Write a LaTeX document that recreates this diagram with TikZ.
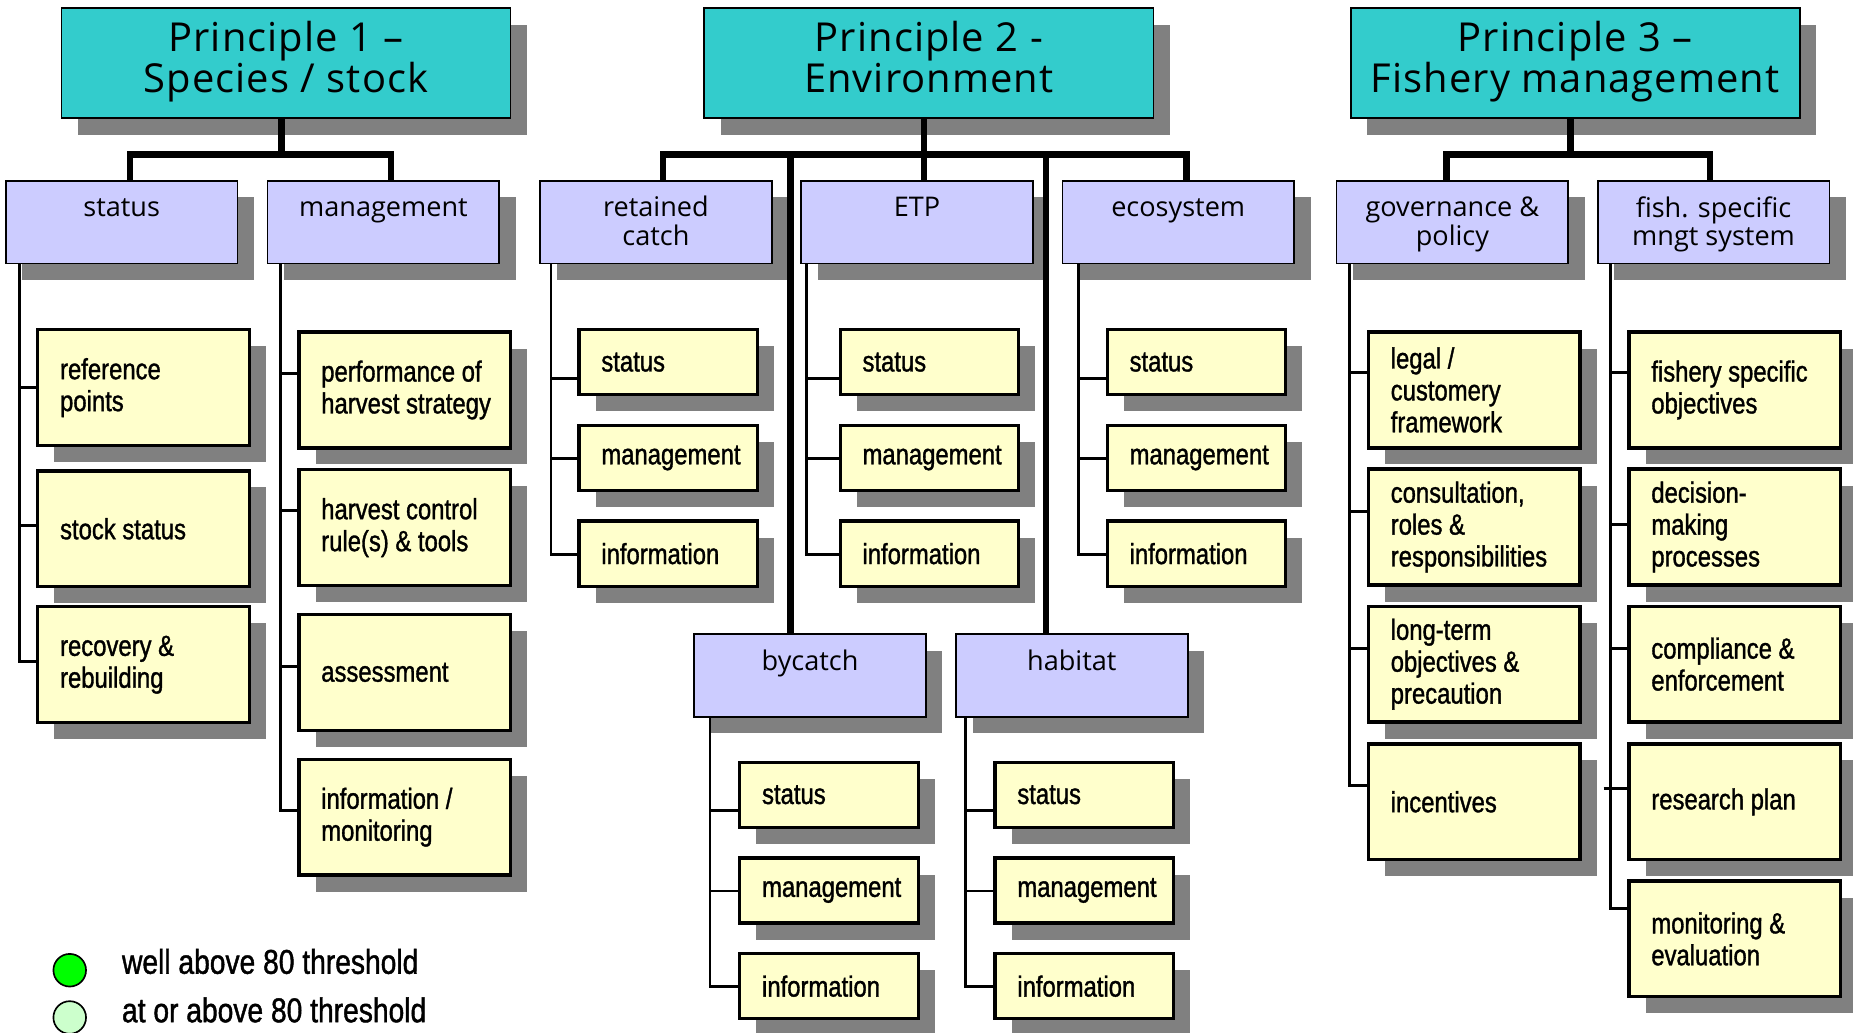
\documentclass[tikz,border=0pt]{standalone}
\usepackage{fontspec}
\setmainfont{Open Sans}
\newfontfamily\headf{Open Sans}[LetterSpace=2.7]
\newfontfamily\narrowf{Liberation Sans}[FakeStretch=0.82,FakeBold=1.2]
\usetikzlibrary{shadows,calc}
\definecolor{tealc}{HTML}{33CCCC}
\definecolor{lavc}{HTML}{CCCCFF}
\definecolor{ylwc}{HTML}{FFFFCC}
\definecolor{shadowc}{HTML}{808080}
\definecolor{gA}{HTML}{00FF00}
\definecolor{gB}{HTML}{CCFFCC}
\begin{document}
\begin{tikzpicture}[x=0.025cm,y=-0.025cm,
  shd/.style={drop shadow={shadow xshift=0.35cm,shadow yshift=-0.35cm,fill=shadowc,opacity=1}},
  tbox/.style={shd,draw=black,line width=1pt,fill=tealc,minimum width=9.5cm,minimum height=2.325cm,inner sep=0pt,align=center,font=\headf\fontsize{24}{24.9}\selectfont},
  pbox/.style={shd,draw=black,line width=1pt,fill=lavc,minimum width=4.9cm,minimum height=1.75cm,inner sep=0pt},
  plab/.style={anchor=north,inner sep=0pt,align=center,font=\fontsize{16.3}{17}\selectfont,yshift=-0.34cm},
  pl/.style={label={[plab]north:{\vphantom{lg}#1}}},
  ybox/.style={shd,draw=black,line width=2pt,fill=ylwc,inner sep=0pt},
  ylab/.style={anchor=west,inner sep=0pt,align=left,xshift=0.5cm,font=\narrowf\fontsize{17.5}{19.2}\selectfont},
  yl/.style={label={[ylab]west:{#1}}},
  ybig/.style={ybox,minimum width=4.475cm,minimum height=2.45cm},
  ysml/.style={ybox,minimum width=3.775cm,minimum height=1.375cm},
  thk/.style={line width=3.9pt},
  thn/.style={line width=1.7pt},
  lgc/.style={circle,draw=black,line width=1pt,minimum size=0.69cm,inner sep=0pt},
  lgt/.style={anchor=base west,inner sep=0pt,font=\narrowf\fontsize{20.7}{24}\selectfont}
]
\useasboundingbox (0,0) rectangle (1568,874);

% principles
\node[tbox] (P1) at (242,53.5) {Principle 1 –\\Species / stock\strut};
\node[tbox] (P2) at (786,53.5) {Principle 2 -\\Environment\strut};
\node[tbox] (P3) at (1333,53.5) {Principle 3 –\\Fishery management\strut};

% components
\node[pbox,pl={status}] (s1) at (103,188) {};
\node[pbox,pl={management}] (m1) at (324.5,188) {};
\node[pbox,pl={retained\\catch}] (rc) at (555,188) {};
\node[pbox,pl={ETP}] (etp) at (776,188) {};
\node[pbox,pl={ecosystem}] (eco) at (997,188) {};
\node[pbox,pl={governance \&\\policy}] (gov) at (1229,188) {};
\node[pbox,pl={fish. specific\\mngt system}] (fsm) at (1450,188) {};
\node[pbox,pl={bycatch}] (byc) at (685.5,571.5) {};
\node[pbox,pl={habitat}] (hab) at (907,571.5) {};

% P1 status
\node[ybig,yl={reference\\points}] (rp) at (121.5,328) {};
\node[ybig,yl={stock status}] (ss) at (121.5,447.5) {};
\node[ybig,yl={recovery \&\\rebuilding}] (rr) at (121.5,562.5) {};
% P1 management
\node[ybig,yl={performance of\\harvest strategy}] (perf) at (342.5,330) {};
\node[ybig,yl={harvest control\\rule(s) \& tools}] (hcr) at (342.5,446.5) {};
\node[ybig,yl={assessment}] (asm) at (342.5,569) {};
\node[ybig,yl={information /\\monitoring}] (im) at (342.5,691.5) {};

% P2 small boxes
\node[ysml,yl={status}] (rcA) at (565.5,306.5) {};
\node[ysml,yl={management}] (rcB) at (565.5,387.5) {};
\node[ysml,yl={information}] (rcC) at (565.5,468.5) {};
\node[ysml,yl={status}] (etA) at (786.5,306.5) {};
\node[ysml,yl={management}] (etB) at (786.5,387.5) {};
\node[ysml,yl={information}] (etC) at (786.5,468.5) {};
\node[ysml,yl={status}] (ecA) at (1012.5,306.5) {};
\node[ysml,yl={management}] (ecB) at (1012.5,387.5) {};
\node[ysml,yl={information}] (ecC) at (1012.5,468.5) {};
\node[ysml,yl={status}] (bcA) at (701.5,672.5) {};
\node[ysml,yl={management}] (bcB) at (701.5,753.5) {};
\node[ysml,yl={information}] (bcC) at (701.5,834.5) {};
\node[ysml,yl={status}] (hbA) at (917.5,672.5) {};
\node[ysml,yl={management}] (hbB) at (917.5,753.5) {};
\node[ysml,yl={information}] (hbC) at (917.5,834.5) {};

% P3
\node[ybig,yl={legal /\\customery\\framework}] (leg) at (1247.5,330) {};
\node[ybig,yl={consultation,\\roles \&\\responsibilities}] (con) at (1247.5,446) {};
\node[ybig,yl={long-term\\objectives \&\\precaution}] (lto) at (1247.5,562) {};
\node[ybig,yl={incentives}] (inc) at (1247.5,678.5) {};
\node[ybig,yl={fishery specific\\objectives}] (fso) at (1468,330) {};
\node[ybig,yl={decision-\\making\\processes}] (dmp) at (1468,446) {};
\node[ybig,yl={compliance \&\\enforcement}] (ce) at (1468,562) {};
\node[ybig,yl={research plan}] (rpl) at (1468,678.5) {};
\node[ybig,yl={monitoring \&\\evaluation}] (me) at (1468,794.5) {};

% thick connectors
\draw[thk] ($(P1.south)+(-4,0)$) -- ++(0,30);
\draw[thk] ($(s1.north)+(7,0)$) |- ($(P1.south)+(-4,30)$) -| ($(m1.north)+(6.5,0)$);
\draw[thk] ($(P2.south)+(-4,0)$) -- ($(etp.north)+(6,0)$);
\draw[thk] ($(rc.north)+(6,0)$) |- ($(P2.south)+(-4,30)$) -| ($(eco.north)+(7,0)$);
\draw[thk] ($(byc.north)+(-16.5,0)$) -- ++(0,-407);
\draw[thk] ($(hab.north)+(-22,0)$) -- ++(0,-407);
\draw[thk] ($(P3.south)+(-4,0)$) -- ++(0,30);
\draw[thk] ($(gov.north)+(-5,0)$) |- ($(P3.south)+(-4,30)$) -| ($(fsm.north)+(-3,0)$);

% thin connectors
\foreach \b/\d in {rp/0,ss/-3,rr/-3}
  \draw[thn] ($(s1.south west)+(12,0)$) |- ($(\b.west)+(0,\d)$);
\foreach \b/\d in {perf/-14,hcr/-14.5,asm/-5,im/-6}
  \draw[thn] ($(m1.south west)+(11.5,0)$) |- ($(\b.west)+(0,\d)$);
\foreach \b/\d in {rcA/13.5,rcB/0.5,rcC/0.5}
  \draw[thn] ($(rc.south west)+(10,0)$) |- ($(\b.west)+(0,\d)$);
\foreach \b/\d in {etA/13.5,etB/0.5,etC/0.5}
  \draw[thn] ($(etp.south west)+(5,0)$) |- ($(\b.west)+(0,\d)$);
\foreach \b/\d in {ecA/13.5,ecB/0.5,ecC/0.5}
  \draw[thn] ($(eco.south west)+(14,0)$) |- ($(\b.west)+(0,\d)$);
\foreach \b/\d in {bcA/13,bcB/0.5,bcC/0.5}
  \draw[thn] ($(byc.south west)+(14,0)$) |- ($(\b.west)+(0,\d)$);
\foreach \b/\d in {hbA/13,hbB/0.5,hbC/0.5}
  \draw[thn] ($(hab.south west)+(9,0)$) |- ($(\b.west)+(0,\d)$);
\foreach \b/\d in {leg/-14.5,con/-13.5,lto/-13,inc/-13.5}
  \draw[thn] ($(gov.south west)+(11.5,0)$) |- ($(\b.west)+(0,\d)$);
\foreach \b/\d in {fso/-14.5,dmp/-2,ce/-13,rpl/-11,me/-25.5}
  \draw[thn] ($(fsm.south west)+(11.5,0)$) |- ($(\b.west)+(0,\d)$);
\draw[thn] ($(rpl.west)+(-20,-11)$) -- ($(rpl.west)+(0,-11)$);

% legend
\node[lgc,fill=gA] (lg1) at (59,821) {};
\node[lgc,fill=gB] (lg2) at (59,861) {};
\node[lgt] (lt1) at (103,824) {well above 80 threshold};
\node[lgt] (lt2) at (103,865) {at or above 80 threshold};
\end{tikzpicture}
\end{document}
